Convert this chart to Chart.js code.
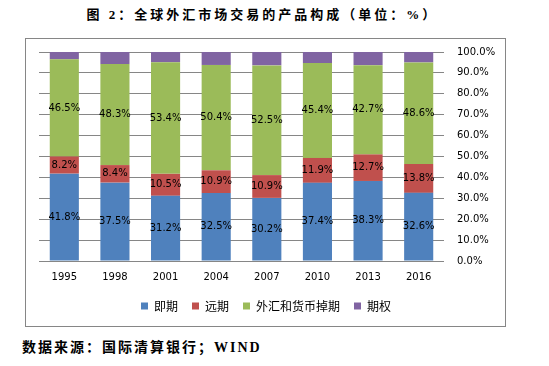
<!DOCTYPE html>
<html>
<head>
<meta charset="utf-8">
<script src="https://cdn.jsdelivr.net/npm/chart.js@4"></script>
<style>
  body { margin: 0; width: 549px; height: 366px; background: #fff; position: relative; overflow: hidden; }
  .title { position: absolute; left: 0; width: 525px; top: 4px; text-align: center; font: bold 13px "Liberation Serif", "Noto Sans CJK SC"; letter-spacing: 3px; color: #000; }
  .box { position: absolute; left: 25px; top: 38px; width: 481px; height: 289px; box-sizing: border-box; border: 1px solid #868686; }
  .wrap { position: absolute; left: 25px; top: 38px; width: 480px; height: 288px; }
  .source { position: absolute; left: 22px; top: 336px; font: bold 14px "Liberation Serif", "Noto Sans CJK SC"; letter-spacing: 2px; color: #000; }
</style>
</head>
<body>
<div class="title">图 2：全球外汇市场交易的产品构成（单位：%）</div>
<div class="box"></div>
<div class="wrap"><canvas id="myChart"></canvas></div>
<div class="source">数据来源：国际清算银行；WIND</div>
<script>
var years = ["1995", "1998", "2001", "2004", "2007", "2010", "2013", "2016"];
var spotValues = [41.8, 37.5, 31.2, 32.5, 30.2, 37.4, 38.3, 32.6];
var forwardValues = [8.2, 8.4, 10.5, 10.9, 10.9, 11.9, 12.7, 13.8];
var swapValues = [46.5, 48.3, 53.4, 50.4, 52.5, 45.4, 42.7, 48.6];
var optionValues = [3.5, 5.8, 4.9, 6.2, 6.4, 5.3, 6.3, 5.0];
var seriesNames = ["即期", "远期", "外汇和货币掉期", "期权"];
var barColors = ["#4f81bd", "#c0504d", "#9bbb59", "#8064a2"];

// value labels in the middle of each segment (not for options)
var segmentLabels = {
    id: "segmentLabels",
    afterDatasetsDraw: function(chart) {
        var ctx = chart.ctx;
        ctx.save();
        ctx.font = "10px 'DejaVu Sans'";
        ctx.fillStyle = "#000";
        ctx.textAlign = "center";
        ctx.textBaseline = "middle";
        for (var d = 0; d < 3; d++) {
            var meta = chart.getDatasetMeta(d);
            meta.data.forEach(function(bar, i) {
                var v = chart.data.datasets[d].data[i];
                ctx.fillText(v.toFixed(1) + "%", bar.x, (bar.y + bar.base) / 2);
            });
        }
        ctx.restore();
    }
};

// legend sits a little left of the canvas centre in the original
var legendShift = {
    id: "legendShift",
    afterLayout: function(chart) {
        if (chart.legend) {
            chart.legend.left -= 6;
            chart.legend.right -= 6;
        }
    }
};

Chart.defaults.color = "#000";
Chart.defaults.animation = false;

var allValues = [spotValues, forwardValues, swapValues, optionValues];

new Chart("myChart", {
    type: "bar",
    data: {
        labels: years,
        datasets: allValues.map(function(vals, k) {
            return {
                label: seriesNames[k],
                data: vals,
                backgroundColor: barColors[k],
                borderWidth: 0,
                categoryPercentage: 1,
                barPercentage: 0.575
            };
        })
    },
    options: {
        responsive: true,
        maintainAspectRatio: false,
        layout: { padding: { left: 14, top: 14, right: 0, bottom: 4 } },
        plugins: {
            legend: {
                position: "bottom",
                labels: {
                    boxWidth: 7,
                    boxHeight: 7,
                    padding: 14,
                    font: { size: 12, family: "'Noto Sans CJK SC'" }
                }
            },
            title: { display: false },
            tooltip: { enabled: false }
        },
        scales: {
            x: {
                stacked: true,
                grid: { display: false, drawTicks: false },
                border: { display: false },
                ticks: { padding: 10, font: { size: 10, family: "'DejaVu Sans'" } },
                afterFit: function(scale) { scale.height = 25; }
            },
            y: {
                stacked: true,
                position: "right",
                min: 0,
                max: 100,
                grid: { color: "#868686", drawTicks: true, tickLength: 13, tickColor: "rgba(0,0,0,0)" },
                border: { display: false },
                ticks: {
                    stepSize: 10,
                    padding: 0,
                    font: { size: 10, family: "'DejaVu Sans'" },
                    callback: function(v) { return v.toFixed(1) + "%"; }
                },
                afterFit: function(scale) { scale.width = 61; }
            }
        }
    },
    plugins: [segmentLabels, legendShift]
});
</script>
</body>
</html>
